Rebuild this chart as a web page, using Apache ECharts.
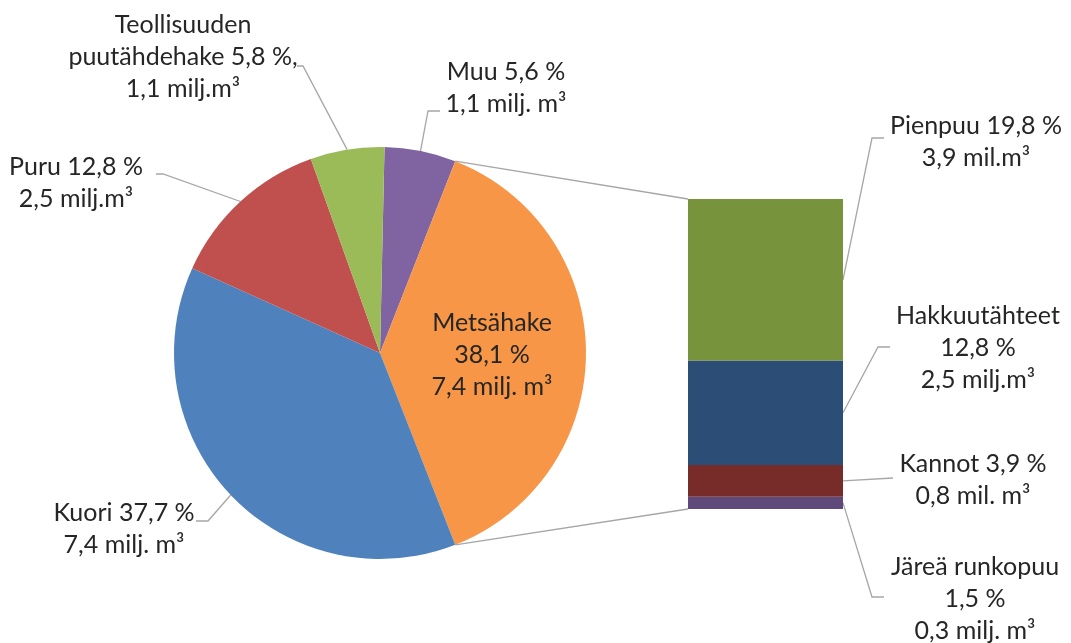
<!DOCTYPE html>
<html><head><meta charset="utf-8">
<script src="https://cdn.jsdelivr.net/npm/echarts@6/dist/echarts.min.js"></script>
<style>html,body{margin:0;padding:0;background:#fff}#c{width:1071px;height:643px}</style>
</head><body><div id="c"></div>
<script>
// ---- data ----
const pieNames = ['Muu', 'Metsähake', 'Kuori', 'Puru', 'Teollisuuden\npuutähdehake'];
const piePct   = [5.6, 38.1, 37.7, 12.8, 5.8];
const pieVol   = [1.1, 7.4, 7.4, 2.5, 1.1];
const pieUnits = ['milj. m³', 'milj. m³', 'milj. m³', 'milj.m³', 'milj.m³'];
const barNames = ['Järeä runkopuu', 'Kannot', 'Hakkuutähteet', 'Pienpuu'];
const barPct   = [1.5, 3.9, 12.8, 19.8];
const barVol   = [0.3, 0.8, 2.5, 3.9];
const barUnits = ['milj. m³', 'mil. m³', 'milj.m³', 'mil.m³'];
const splitIndex = 1; // Metsähake is broken down in the bar

// ---- styles / layout ----
const FONT = 'Lato';
const FS = 25, LH = 32;
const TXT = '#262626';
const LINE = '#A6A6A6';
const pieColors = ['#8064A2', '#F79646', '#4F81BD', '#C0504D', '#9BBB59'];
const barColors = ['#5F497A', '#772C2A', '#2C4D75', '#77933C'];
const pieTpl = ['{n} {p} %\n{v} {u}', '{n}\n{p} %\n{v} {u}', '{n} {p} %\n{v} {u}', '{n} {p} %\n{v} {u}', '{n} {p} %,\n{v} {u}'];
const barTpl = ['{n}\n{p} %\n{v} {u}', '{n} {p} %\n{v} {u}', '{n}\n{p} %\n{v} {u}', '{n} {p} %\n{v} {u}'];
const pieLabelPos = [
  {c: [506, 88],  pts: [[428, 111], [440, 111]]},
  {c: [492, 355]},
  {c: [124, 529], pts: [[208, 521], [196, 521]]},
  {c: [76, 183],  pts: [[163, 174], [156, 174]]},
  {c: [183, 57],  pts: [[303, 66], [297, 66]]}
];
const barLabelPos = [
  {c: [975, 599], pts: [[872, 597], [884, 597]]},
  {c: [973, 480], pts: [[893, 478]]},
  {c: [978, 348], pts: [[878, 347], [890, 347]]},
  {c: [976, 142], pts: [[872, 138], [884, 138]]}
];
const pieCenter = [380, 353], pieR = 206;
const gridBox = {left: 688, width: 155, top: 199, bottom: 134};

const fmt = v => v.toFixed(1).replace('.', ',');
const fill = (t, n, p, v, u) => t.replace('{n}', n).replace('{p}', fmt(p)).replace('{v}', fmt(v)).replace('{u}', u);

const totalPie = piePct.reduce((a, b) => a + b, 0);
let before = 0; for (let i = 0; i < splitIndex; i++) before += piePct[i];
const startAngle = (before + piePct[splitIndex] / 2) / totalPie * 360;
const barTotal = barPct.reduce((a, b) => a + b, 0);

const labelBase = {fontFamily: FONT, fontSize: FS, lineHeight: LH, color: TXT, align: 'center'};

const series = [{
  type: 'pie', center: pieCenter, radius: pieR, startAngle: startAngle, clockwise: true,
  avoidLabelOverlap: false, silent: true,
  data: pieNames.map((n, i) => ({
    name: n, value: piePct[i], itemStyle: {color: pieColors[i]},
    label: i === splitIndex ? {position: 'inside'} : {},
    labelLine: i === splitIndex ? {show: false} : {}
  })),
  label: Object.assign({show: true, position: 'outside',
    formatter: p => fill(pieTpl[p.dataIndex], pieNames[p.dataIndex], piePct[p.dataIndex], pieVol[p.dataIndex], pieUnits[p.dataIndex])}, labelBase),
  labelLine: {show: true, length: 10, length2: 10, lineStyle: {color: LINE, width: 1.3}},
  labelLayout: function (params) {
    const L = pieLabelPos[params.dataIndex];
    const out = {x: L.c[0], y: L.c[1], align: 'center', verticalAlign: 'middle'};
    if (L.pts && params.labelLinePoints) out.labelLinePoints = [params.labelLinePoints[0]].concat(L.pts);
    return out;
  }
}];

barNames.forEach((n, i) => {
  series.push({
    type: 'bar', stack: 'b', name: n, data: [barPct[i]], barWidth: '100%', silent: true,
    xAxisIndex: 0, yAxisIndex: 0,
    itemStyle: {color: barColors[i]},
    label: Object.assign({show: true, position: 'right',
      formatter: () => fill(barTpl[i], barNames[i], barPct[i], barVol[i], barUnits[i])}, labelBase),
    labelLine: {show: false},
    labelLayout: function () {
      const L = barLabelPos[i];
      return {x: L.c[0], y: L.c[1], align: 'center', verticalAlign: 'middle'};
    }
  });
});

const option = {
  animation: false,
  backgroundColor: '#fff',
  grid: Object.assign({containLabel: false}, gridBox),
  xAxis: {type: 'category', data: ['Metsähake'], show: false},
  yAxis: {type: 'value', min: 0, max: barTotal, show: false},
  series: series
};

const chart = echarts.init(document.getElementById('c'));
chart.setOption(option);

// connector lines between the split slice and the bar, plus bar label leader lines
function connectors() {
  const a1 = (startAngle - before / totalPie * 360) * Math.PI / 180;
  const a2 = (startAngle - (before + piePct[splitIndex]) / totalPie * 360) * Math.PI / 180;
  const p1 = [pieCenter[0] + pieR * Math.cos(a1), pieCenter[1] - pieR * Math.sin(a1)];
  const p2 = [pieCenter[0] + pieR * Math.cos(a2), pieCenter[1] - pieR * Math.sin(a2)];
  const yTop = chart.convertToPixel({yAxisIndex: 0}, barTotal);
  const yBot = chart.convertToPixel({yAxisIndex: 0}, 0);
  const xL = gridBox.left, xR = gridBox.left + gridBox.width;
  const g = [
    {type: 'line', z: 0, shape: {x1: p1[0], y1: p1[1], x2: xL, y2: yTop}, style: {stroke: LINE, lineWidth: 1.3}},
    {type: 'line', z: 0, shape: {x1: p2[0], y1: p2[1], x2: xL, y2: yBot}, style: {stroke: LINE, lineWidth: 1.3}}
  ];
  let cum = 0;
  barPct.forEach((v, i) => {
    const yMid = chart.convertToPixel({yAxisIndex: 0}, cum + v / 2);
    cum += v;
    g.push({type: 'polyline', z: 0, shape: {points: [[xR, yMid]].concat(barLabelPos[i].pts)},
      style: {stroke: LINE, lineWidth: 1.3, fill: null}});
  });
  chart.setOption({graphic: g});
}
connectors();
</script>
</body></html>
